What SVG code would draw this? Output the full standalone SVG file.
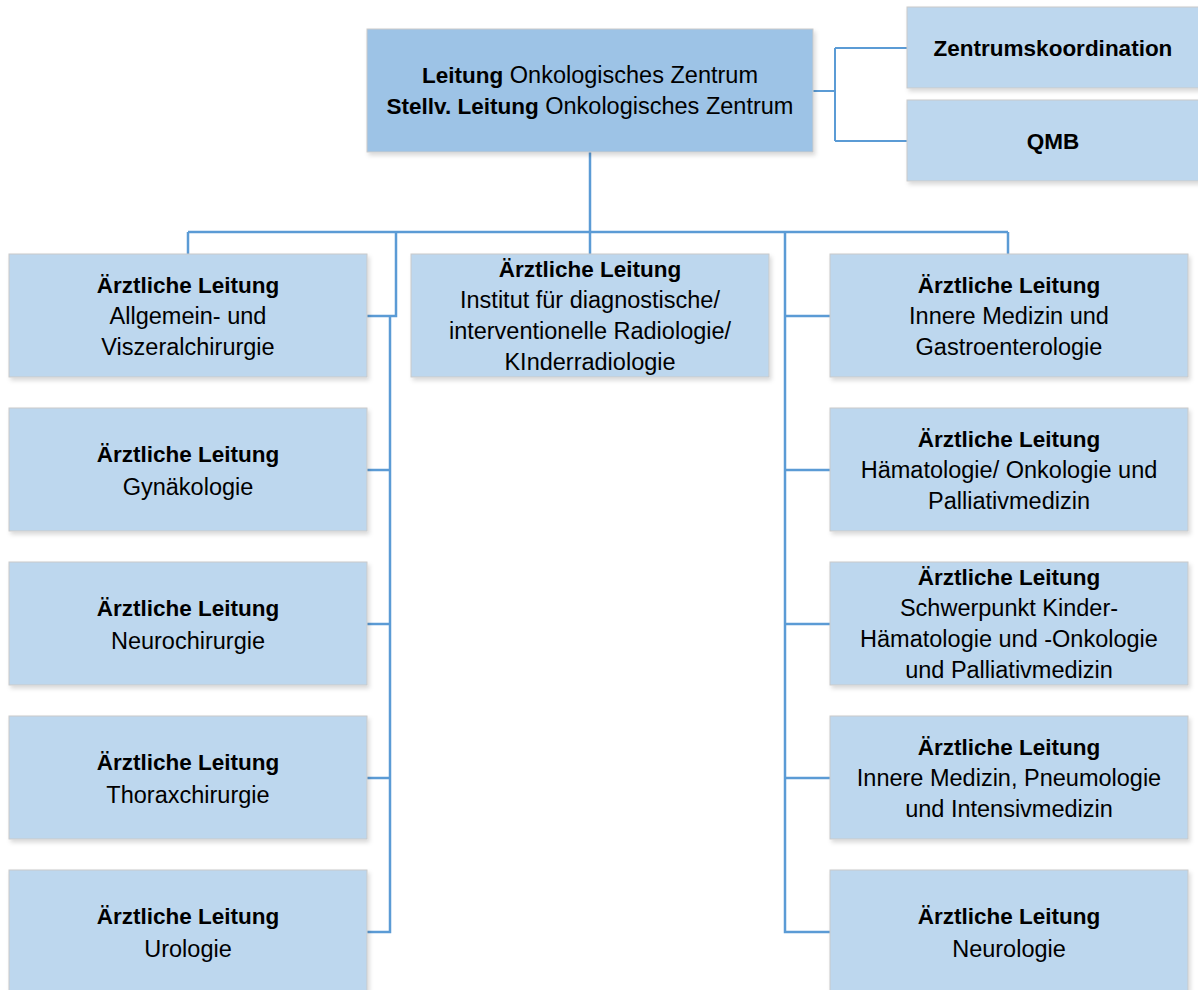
<svg xmlns="http://www.w3.org/2000/svg" width="1198" height="990" viewBox="0 0 1198 990">
<defs>
<filter id="sh" x="-5%" y="-5%" width="110%" height="115%">
<feDropShadow dx="2" dy="3" stdDeviation="2" flood-color="#000" flood-opacity="0.15"/>
</filter>
<style>
.b{fill:#BDD7EE;stroke:#CACACA;stroke-width:1;filter:url(#sh)}
.top{fill:#9DC3E6;stroke:#CACACA;stroke-width:1;filter:url(#sh)}
text{font-family:"Liberation Sans",Arial,sans-serif;font-size:23.5px;fill:#000;text-anchor:middle}
.bd{font-weight:bold;font-size:22.5px}
.c{fill:none;stroke:#5B9BD5;stroke-width:2.5}
.c2{fill:none;stroke:#5B9BD5;stroke-width:2}
</style>
</defs>
<rect width="1198" height="990" fill="#fff"/>
<g id="connectors">
<path class="c" d="M590 152V232M188 232H1008M188 232V254M590 232V254M1008 232V254"/>
<path class="c" d="M396 232V316H367M390 316V932H367M390 470H367M390 624H367M390 778H367"/>
<path class="c" d="M785 232V932H830M785 316H830M785 470H830M785 624H830M785 778H830"/>
<path class="c2" d="M813 91H835M835 48V141M835 48H907M835 141H907"/>
</g>
<g id="leitung">
<rect class="top" x="367" y="29" width="446" height="123"/>
<text x="590" y="83"><tspan class="bd">Leitung</tspan> Onkologisches Zentrum</text>
<text x="590" y="114"><tspan class="bd">Stellv. Leitung</tspan> Onkologisches Zentrum</text>
</g>
<g id="zentrumskoordination">
<rect class="b" x="907" y="7" width="296" height="81"/>
<text class="bd" x="1053" y="56">Zentrumskoordination</text>
</g>
<g id="qmb">
<rect class="b" x="907" y="100" width="296" height="81"/>
<text class="bd" x="1053" y="149">QMB</text>
</g>
<g id="allgemein">
<rect class="b" x="9" y="254" width="358" height="123"/>
<text class="bd" x="188" y="293">Ärztliche Leitung</text>
<text x="188" y="324">Allgemein- und</text>
<text x="188" y="355">Viszeralchirurgie</text>
</g>
<g id="radiologie">
<rect class="b" x="411" y="254" width="358" height="123"/>
<text class="bd" x="590" y="277">Ärztliche Leitung</text>
<text x="590" y="308">Institut für diagnostische/</text>
<text x="590" y="339">interventionelle Radiologie/</text>
<text x="590" y="370">KInderradiologie</text>
</g>
<g id="innere">
<rect class="b" x="830" y="254" width="358" height="123"/>
<text class="bd" x="1009" y="293">Ärztliche Leitung</text>
<text x="1009" y="324">Innere Medizin und</text>
<text x="1009" y="355">Gastroenterologie</text>
</g>
<g id="gynaekologie">
<rect class="b" x="9" y="408" width="358" height="123"/>
<text class="bd" x="188" y="462">Ärztliche Leitung</text>
<text x="188" y="495">Gynäkologie</text>
</g>
<g id="haematologie">
<rect class="b" x="830" y="408" width="358" height="123"/>
<text class="bd" x="1009" y="447">Ärztliche Leitung</text>
<text x="1009" y="478">Hämatologie/ Onkologie und</text>
<text x="1009" y="509">Palliativmedizin</text>
</g>
<g id="neurochirurgie">
<rect class="b" x="9" y="562" width="358" height="123"/>
<text class="bd" x="188" y="616">Ärztliche Leitung</text>
<text x="188" y="649">Neurochirurgie</text>
</g>
<g id="kinder">
<rect class="b" x="830" y="562" width="358" height="123"/>
<text class="bd" x="1009" y="585">Ärztliche Leitung</text>
<text x="1009" y="616">Schwerpunkt Kinder-</text>
<text x="1009" y="647">Hämatologie und -Onkologie</text>
<text x="1009" y="678">und Palliativmedizin</text>
</g>
<g id="thorax">
<rect class="b" x="9" y="716" width="358" height="123"/>
<text class="bd" x="188" y="770">Ärztliche Leitung</text>
<text x="188" y="803">Thoraxchirurgie</text>
</g>
<g id="pneumologie">
<rect class="b" x="830" y="716" width="358" height="123"/>
<text class="bd" x="1009" y="755">Ärztliche Leitung</text>
<text x="1009" y="786">Innere Medizin, Pneumologie</text>
<text x="1009" y="817">und Intensivmedizin</text>
</g>
<g id="urologie">
<rect class="b" x="9" y="870" width="358" height="124"/>
<text class="bd" x="188" y="924">Ärztliche Leitung</text>
<text x="188" y="957">Urologie</text>
</g>
<g id="neurologie">
<rect class="b" x="830" y="870" width="358" height="124"/>
<text class="bd" x="1009" y="924">Ärztliche Leitung</text>
<text x="1009" y="957">Neurologie</text>
</g>
</svg>
